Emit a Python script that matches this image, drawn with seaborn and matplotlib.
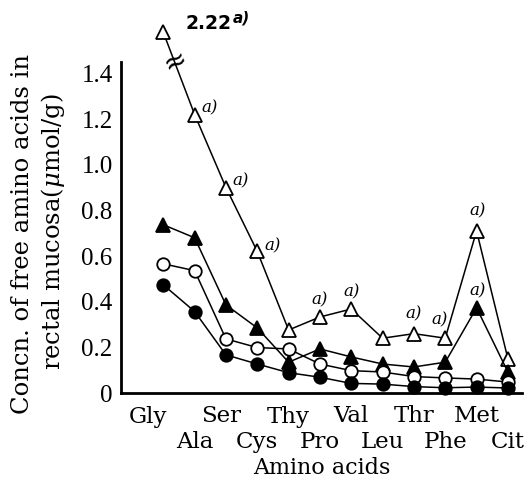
import numpy as np
import pandas as pd
import matplotlib
matplotlib.use("Agg")
import matplotlib.pyplot as plt
import matplotlib.transforms as mtransforms
import seaborn as sns

# ---- data ----
amino_acids = ["Gly", "Ala", "Ser", "Cys", "Thy", "Pro", "Val", "Leu", "Thr", "Phe", "Met", "Cit"]
open_triangle = [2.22, 1.22, 0.90, 0.62, 0.276, 0.333, 0.368, 0.24, 0.26, 0.24, 0.71, 0.15]
filled_triangle = [0.737, 0.68, 0.386, 0.285, 0.135, 0.193, 0.158, 0.127, 0.114, 0.135, 0.373, 0.092]
open_circle = [0.566, 0.536, 0.237, 0.199, 0.193, 0.127, 0.098, 0.092, 0.072, 0.066, 0.061, 0.048]
filled_circle = [0.474, 0.357, 0.167, 0.127, 0.089, 0.069, 0.042, 0.039, 0.028, 0.023, 0.026, 0.022]
# significance marks "a)" (indices of points)
open_tri_marks = [1, 2, 3, 5, 6, 8, 9, 10]
filled_tri_marks = [10]
yticks = [0, 0.2, 0.4, 0.6, 0.8, 1.0, 1.2, 1.4]
ytick_labels = ["0", "0.2", "0.4", "0.6", "0.8", "1.0", "1.2", "1.4"]

Y_TOP = 1.45
BREAK_SHOW = 1.58  # where an off-scale value is drawn above the broken axis

sns.set_theme(style="white")
plt.rcParams["font.family"] = ["DejaVu Serif"]
plt.rcParams["mathtext.fontset"] = "dejavuserif"
plt.rcParams.update({"text.color": "black", "axes.labelcolor": "black",
                     "xtick.color": "black", "ytick.color": "black"})

fig = plt.figure(figsize=(5.25, 4.92), dpi=100)
ax = fig.add_axes([121 / 525, 1 - 393 / 492, (522 - 121) / 525, (393 - 62) / 492])

x = np.arange(len(amino_acids))
disp_open_tri = [v if v <= Y_TOP else BREAK_SHOW for v in open_triangle]

series = [
    (disp_open_tri, "^", "white", 10),
    (filled_triangle, "^", "black", 10),
    (open_circle, "o", "white", 9),
    (filled_circle, "o", "black", 9),
]
for vals, mk, fc, ms in series:
    sns.lineplot(x=x, y=vals, ax=ax, color="black", lw=1.1, marker=mk, markersize=ms,
                 markerfacecolor=fc, markeredgecolor="black", markeredgewidth=1.3,
                 sort=False, clip_on=False, zorder=3)

ax.set_xlim(-1.35, 11.45)
ax.set_ylim(0, Y_TOP)
ax.set_yticks(yticks)
ax.set_yticklabels(ytick_labels, fontsize=18, family="Liberation Serif")
ax.set_xticks(x)
ax.set_xticklabels([n if i % 2 == 0 else "\n" + n for i, n in enumerate(amino_acids)],
                   fontsize=16.5, linespacing=1.2)
for s in ["top", "right"]:
    ax.spines[s].set_visible(False)
for s in ["left", "bottom"]:
    ax.spines[s].set_linewidth(2.0)
    ax.spines[s].set_color("black")
ax.tick_params(axis="both", direction="out", length=5, width=1.2, color="black")
ax.tick_params(axis="y", pad=1)
ax.tick_params(axis="x", pad=4)

# small horizontal nudges of a few tick labels (Gly, Ser) as in the original
nudges = {0: -15, 2: -5}
for i, lbl in enumerate(ax.get_xticklabels()):
    if i in nudges:
        lbl.set_transform(lbl.get_transform() +
                          mtransforms.ScaledTranslation(nudges[i] / 100, 0, fig.dpi_scale_trans))

ax.set_xlabel("Amino acids", fontsize=16, labelpad=3)
fig.text(23 / 525, 1 - 234 / 492, "Concn. of free amino acids in", rotation=90,
         fontsize=17.5, ha="center", va="center")
fig.text(53 / 525, 1 - 232 / 492, "rectal mucosa($\\mu$mol/g)", rotation=90,
         fontsize=17.5, ha="center", va="center")

# break mark on the Gly-Ala segment
t = 0.354
bx = x[0] + (x[1] - x[0]) * t
by = BREAK_SHOW + (open_triangle[1] - BREAK_SHOW) * t
ax.text(bx, by, "≈", rotation=25, fontsize=20, ha="center", va="center",
        family="DejaVu Sans", clip_on=False, zorder=5)

# off-scale value label
ax.annotate(f"{open_triangle[0]:.2f}", xy=(x[0], BREAK_SHOW), xytext=(16, 6),
            textcoords="offset points", fontsize=13.5, fontweight="bold",
            family="DejaVu Sans", ha="left", va="center", annotation_clip=False)
ax.annotate("a)", xy=(x[0], BREAK_SHOW), xytext=(50, 10), textcoords="offset points",
            fontsize=11, fontstyle="italic", fontweight="bold", family="DejaVu Sans",
            ha="left", va="center", annotation_clip=False)

# "a)" significance marks
offsets_open = {1: (5, 5), 2: (5, 5), 3: (5, 4), 5: (0, 12), 6: (0, 12.5),
                8: (0, 14), 9: (-4, 13), 10: (1, 14.5)}
for i in open_tri_marks:
    dx, dy = offsets_open.get(i, (0, 13))
    ax.annotate("a)", xy=(x[i], disp_open_tri[i]), xytext=(dx, dy), textcoords="offset points",
                fontsize=12, fontstyle="italic",
                ha="left" if i in (1, 2, 3) else "center", va="center", annotation_clip=False)
for i in filled_tri_marks:
    ax.annotate("a)", xy=(x[i], filled_triangle[i]), xytext=(1, 12), textcoords="offset points",
                fontsize=12, fontstyle="italic",
                ha="center", va="center", annotation_clip=False)

fig.savefig("out.png", dpi=100)
